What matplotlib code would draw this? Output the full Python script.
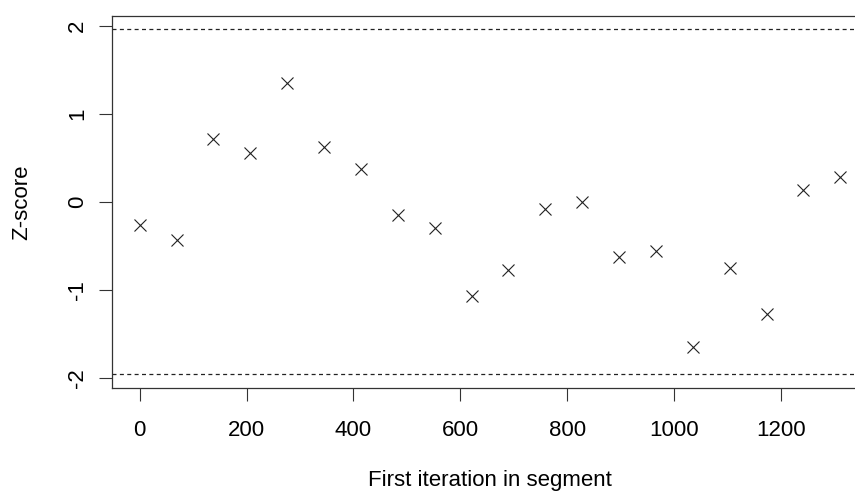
import matplotlib
matplotlib.use("Agg")
import matplotlib.pyplot as plt
import numpy as np

plt.rcParams["font.family"] = ["Liberation Sans", "DejaVu Sans"]

# first iteration of each segment and its Geweke z-score
first_iter = [0, 69, 138, 207, 276, 345, 414, 483, 552, 621,
              690, 759, 828, 897, 966, 1035, 1104, 1173, 1242, 1311]
z_score = [-0.26, -0.43, 0.71, 0.56, 1.35, 0.62, 0.38, -0.15, -0.30, -1.07,
           -0.77, -0.08, 0.00, -0.63, -0.56, -1.65, -0.75, -1.27, 0.14, 0.28]
bounds = [-1.96, 1.96]
x_ticks = [0, 200, 400, 600, 800, 1000, 1200]
y_ticks = [-2, -1, 0, 1, 2]

fig = plt.figure(figsize=(8.55, 4.91), dpi=100)
# axes run past the right edge, the reference is cropped there
ax = fig.add_axes([0.1306, 0.2092, 0.885, 0.7589])

ax.plot(first_iter, z_score, linestyle="none", marker="x", markersize=9,
        markeredgewidth=0.8, color="#222222")
for b in bounds:
    ax.axhline(b, color="#222222", linewidth=0.9, dashes=(3.2, 2.7))

span = first_iter[-1] - first_iter[0]
ax.set_xlim(first_iter[0] - 0.04 * span, first_iter[-1] + 0.04 * span)
ax.set_ylim(-2.117, 2.117)

ax.set_xticks(x_ticks)
ax.set_yticks(y_ticks)
ax.set_yticklabels([str(t) for t in y_ticks], rotation=90, va="center")
ax.tick_params(axis="both", length=9.5, width=0.8, color="#333333",
               labelsize=16)
ax.tick_params(axis="x", pad=13)
ax.tick_params(axis="y", pad=7.5)
for s in ax.spines.values():
    s.set_color("#333333")
    s.set_linewidth(0.9)

ax.set_xlabel("First iteration in segment", fontsize=16)
ax.set_ylabel("Z-score", fontsize=16)
ax.xaxis.set_label_coords((490 - 111.7) / 757, -0.219)
ax.yaxis.set_label_coords(-0.105, 0.5)

fig.savefig("out.png", dpi=100)
